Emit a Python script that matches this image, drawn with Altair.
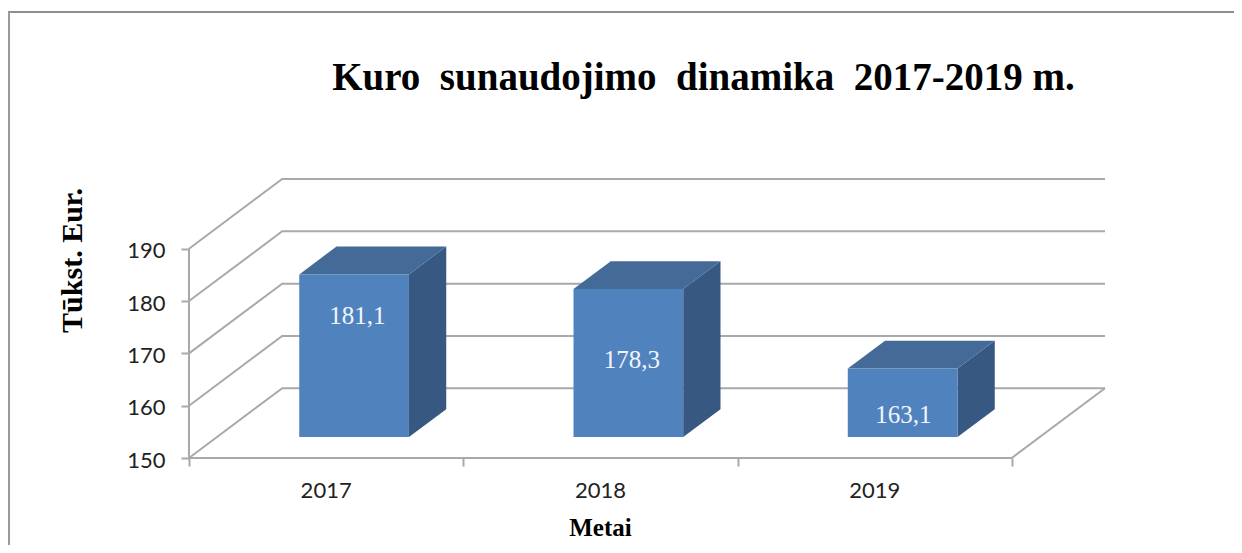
import altair as alt
import pandas as pd

years = ["2017", "2018", "2019"]
values = [181.1, 178.3, 163.1]
value_labels = ["181,1", "178,3", "163,1"]
label_u = [0.614, 1.615, 2.605]
label_v = [177.05, 168.67, 158.19]
ticks = [150, 160, 170, 180, 190]

TITLE = "Kuro\u2002sunaudojimo\u2002dinamika\u20022017-2019 m."
YT = "Tūkst. Eur."
XT = "Metai"
SERIF = "Liberation Serif"
SANS = "Lato"
GREY = "#A9A9A9"
FRONT = "#5082BE"
TOP = "#446A98"
SIDE = "#375880"

# oblique projection of the 3D plot box, in data units
KX = 93 / 273.67
KY = 70 / 5.25
U_MAX = 3.0
Z0, Z1 = 0.3, 0.7
BAR0, BAR1 = 0.3, 0.7
BASE = 150


def px(u, z):
    return u + KX * z


def py(v, z):
    return v + KY * z


X = alt.X("x:Q", scale=alt.Scale(domain=[0, U_MAX + KX], nice=False, zero=False),
          axis=alt.Axis(values=[0, 1, 2, 3], labels=False, grid=False, domain=False,
                        tickColor=GREY, tickSize=8, tickWidth=2, title=XT,
                        titleFont=SERIF, titleFontSize=25, titleFontWeight="bold",
                        titleColor="#000000", titleX=411, titleY=77, titleBaseline="alphabetic"))
Y = alt.Y("y:Q", scale=alt.Scale(domain=[150, 190 + KY], nice=False, zero=False),
          axis=alt.Axis(values=ticks, grid=False, domain=False, tickColor=GREY, tickSize=8,
                        tickWidth=2, labelFont=SANS, labelFontSize=22, labelColor="#222222",
                        labelPadding=16, labelOffset=2, title=YT, titleFont=SERIF, titleFontSize=30,
                        titleFontWeight="bold", titleColor="#000000", titleAngle=270,
                        titleX=-108, titleY=81, titleBaseline="alphabetic"))

# grid + floor + axis lines
rows = []
for v in ticks:
    for i, (u, z) in enumerate([(0, 0), (0, 1), (U_MAX + 0, 1)]):
        rows.append({"x": px(u, z), "y": py(v, z), "seg": f"g{v}", "o": i})
for i, (u, v, z) in enumerate([(0, 190, 0), (0, 150, 0), (3, 150, 0), (3, 150, 1)]):
    rows.append({"x": px(u, z), "y": py(v, z), "seg": "axis", "o": i})
lines = alt.Chart(pd.DataFrame(rows)).mark_line(color=GREY, strokeWidth=2, clip=False).encode(
    x=X, y=Y, detail="seg:N", order="o:Q")

front_rows, side_rows, top_rows = [], [], []
for i, val in enumerate(values):
    a, b = i + BAR0, i + BAR1
    front_rows.append({"x": px(a, Z0), "x2": px(b, Z0), "y": py(BASE, Z0), "y2": py(val, Z0)})
    side_rows += [
        {"x": px(b, Z0), "y": py(val, Z0), "y2": py(BASE, Z0), "b": years[i]},
        {"x": px(b, Z1), "y": py(val, Z1), "y2": py(BASE, Z1), "b": years[i]},
    ]
    top_rows += [
        {"x": px(a, Z0), "y": py(val, Z0), "y2": py(val, Z0), "b": years[i]},
        {"x": px(a, Z1), "y": py(val, Z1), "y2": py(val, Z0), "b": years[i]},
        {"x": px(b, Z0), "y": py(val, Z1), "y2": py(val, Z0), "b": years[i]},
        {"x": px(b, Z1), "y": py(val, Z1), "y2": py(val, Z1), "b": years[i]},
    ]

front = alt.Chart(pd.DataFrame(front_rows)).mark_rect(color=FRONT).encode(
    x=alt.X("x:Q"), x2="x2:Q", y=alt.Y("y:Q"), y2="y2:Q")
side = alt.Chart(pd.DataFrame(side_rows)).mark_area(color=SIDE, orient="vertical").encode(
    x=alt.X("x:Q"), y=alt.Y("y:Q"), y2="y2:Q", detail="b:N")
top = alt.Chart(pd.DataFrame(top_rows)).mark_area(color=TOP, orient="vertical").encode(
    x=alt.X("x:Q"), y=alt.Y("y:Q"), y2="y2:Q", detail="b:N")

labels = alt.Chart(pd.DataFrame({"x": label_u, "y": label_v, "t": value_labels})).mark_text(
    font=SERIF, fontSize=25, color="#F1F5FB", baseline="middle", align="center").encode(
    x=alt.X("x:Q"), y=alt.Y("y:Q"), text="t:N")

year_text = alt.Chart(pd.DataFrame({"x": [0.5, 1.5, 2.5], "y": [150] * 3, "t": years})).mark_text(
    font=SANS, fontSize=22, color="#222222", baseline="middle", align="center", dy=33).encode(
    x=alt.X("x:Q"), y=alt.Y("y:Q"), text="t:N")

title_text = alt.Chart(pd.DataFrame({"t": [TITLE]})).mark_text(
    font=SERIF, fontSize=39, fontWeight="bold", color="#000000", align="center",
    baseline="alphabetic").encode(x=alt.value(514.5), y=alt.value(-89), text="t:N")

frame_top = alt.Chart(pd.DataFrame({"a": [0]})).mark_rule(color="#8F8F8F", strokeWidth=2).encode(
    x=alt.value(-181), x2=alt.value(1045), y=alt.value(-167))
frame_left = alt.Chart(pd.DataFrame({"a": [0]})).mark_rule(color="#9A9A9A", strokeWidth=2).encode(
    x=alt.value(-180), y=alt.value(-167), y2=alt.value(366))

chart = alt.layer(frame_top, frame_left, lines, side, top, front, labels, year_text,
                  title_text).properties(
    width=916, height=279,
    autosize=alt.AutoSizeParams(type="none"),
    padding={"left": 181, "top": 171, "right": 129, "bottom": 87},
).configure_view(stroke=None)

chart.save("out.html", embed_options={"renderer": "svg", "actions": False})
